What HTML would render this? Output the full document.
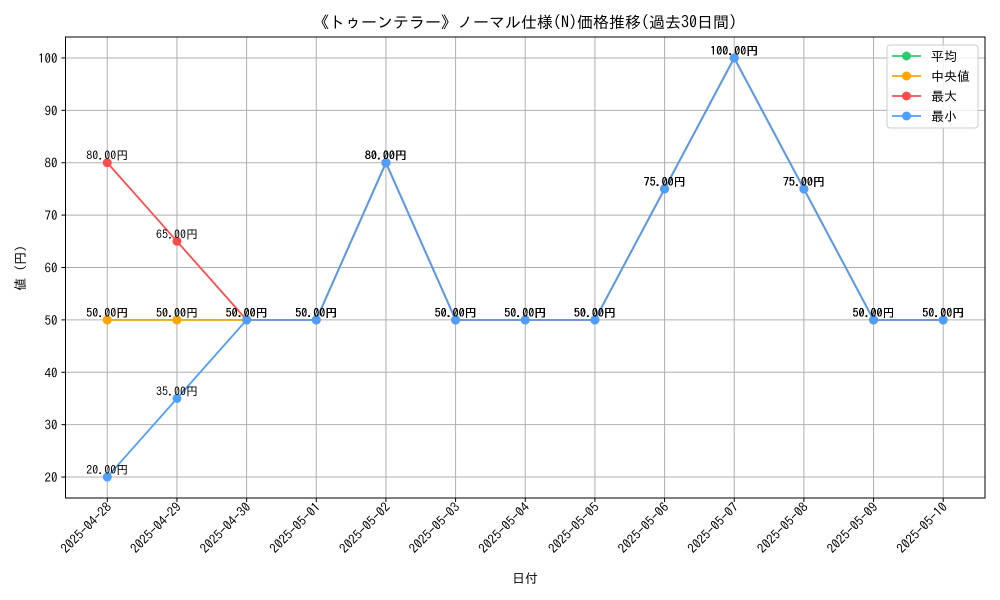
<!DOCTYPE html>
<html><head><meta charset="utf-8">
<style>
body{margin:0;background:#fff;}
svg{display:block;font-family:"IPAGothic","Liberation Sans","Noto Sans CJK JP",sans-serif;}
</style></head>
<body>
<svg id="chart" width="1000" height="600" viewBox="0 0 1000 600" xmlns="http://www.w3.org/2000/svg">
<text x="525" y="28" font-size="16" text-anchor="middle">《トゥーンテラー》ノーマル仕様(N)価格推移(過去30日間)</text>
<g id="grid"></g>
<g id="series"></g>
<g id="labels"></g>
<rect x="65.5" y="37" width="919.5" height="461" fill="none" stroke="#000" stroke-width="1"/>
<g id="axes"></g>
<text transform="translate(25,268) rotate(-90)" font-size="13" text-anchor="middle">値 (円)</text>
<text x="525" y="583" font-size="13" text-anchor="middle">日付</text>
<g>
<rect x="887" y="45" width="91" height="83" rx="3" fill="#fff" fill-opacity="0.8" stroke="#ccc"/>
<g id="legend-items"></g>
</g>
</svg>
<script>
const categories=["2025-04-28","2025-04-29","2025-04-30","2025-05-01","2025-05-02","2025-05-03","2025-05-04","2025-05-05","2025-05-06","2025-05-07","2025-05-08","2025-05-09","2025-05-10"];
const avgValues=[50,50,50,50,80,50,50,50,75,100,75,50,50];
const medianValues=[50,50,50,50,80,50,50,50,75,100,75,50,50];
const maxValues=[80,65,50,50,80,50,50,50,75,100,75,50,50];
const minValues=[20,35,50,50,80,50,50,50,75,100,75,50,50];
const yTicks=[20,30,40,50,60,70,80,90,100];
const seriesNames=["平均","中央値","最大","最小"];
const seriesColors=["#2ecc71","#ffa500","#ff4d4d","#4d9fff"];

const X0=65.5,X1=985,Y0=498,Y1=37;
const xMin=-0.6,xMax=categories.length-1+0.6,yMin=16,yMax=104;
const xs=i=>X0+(i-xMin)/(xMax-xMin)*(X1-X0);
const ys=v=>Y0-(v-yMin)/(yMax-yMin)*(Y0-Y1);
const NS="http://www.w3.org/2000/svg";
function mk(tag,parent,attrs){const e=document.createElementNS(NS,tag);for(const k in attrs)e.setAttribute(k,attrs[k]);parent.appendChild(e);return e;}
const grid=document.getElementById('grid'),axes=document.getElementById('axes');
yTicks.forEach(t=>{
  const y=ys(t);
  const g=mk('line',grid,{x1:X0,x2:X1,y1:y,y2:y,stroke:'#b0b0b0','stroke-width':1});
  
  
  mk('line',axes,{x1:X0-4,x2:X0,y1:y,y2:y,stroke:'#000'});
  const tl=mk('text',axes,{x:X0-8,y:y+5,'font-size':13,'text-anchor':'end'});
  tl.textContent=t;
  
  
});
categories.forEach((c,i)=>{
  const x=xs(i);
  const g=mk('line',grid,{x1:x,x2:x,y1:Y1,y2:Y0,stroke:'#b0b0b0','stroke-width':1});
  
  
  mk('line',axes,{x1:x,x2:x,y1:Y0,y2:Y0+4,stroke:'#000'});
  const tl=mk('text',axes,{transform:`translate(${x+5},${Y0+10}) rotate(-45)`,'font-size':13,'text-anchor':'end'});
  tl.textContent=c;
  
  
});
const seriesData=[avgValues,medianValues,maxValues,minValues];
const sg=document.getElementById('series'),lg=document.getElementById('labels');
seriesData.forEach((vals,s)=>{
  const p=mk('polyline',sg,{points:vals.map((v,i)=>xs(i)+','+ys(v)).join(' '),fill:'none',stroke:seriesColors[s],'stroke-width':1.8});
  
  
  vals.forEach((v,i)=>{
    const c=mk('circle',sg,{cx:xs(i),cy:ys(v),r:4.5,fill:seriesColors[s]});
    
    
    const t=mk('text',lg,{x:xs(i),y:ys(v)-3,'font-size':12,'text-anchor':'middle'});
    t.textContent=v.toFixed(2)+'円';
    
    
  });
});
const li=document.getElementById('legend-items');
seriesNames.forEach((n,s)=>{
  const y=56+s*20;
  const l=mk('line',li,{x1:892,x2:921,y1:y,y2:y,stroke:seriesColors[s],'stroke-width':1.8});
  
  
  const c=mk('circle',li,{cx:906.5,cy:y,r:4.5,fill:seriesColors[s]});
  
  
  const t=mk('text',li,{x:931,y:y+5,'font-size':13});
  t.textContent=(s===1?' ':'')+n;
  
  
});
</script>
</body></html>
